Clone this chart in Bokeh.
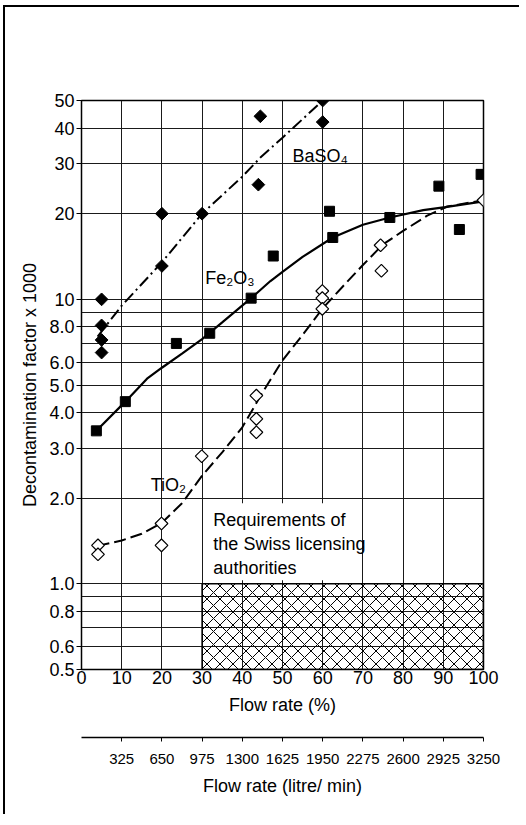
import numpy as np
from bokeh.plotting import figure
from bokeh.models import (Range1d, LinearAxis, FixedTicker, CustomJSTickFormatter,
                          Label, BoxAnnotation)
from bokeh.embed import file_html
from bokeh.resources import INLINE

# ---------------- data ----------------
baso4_x = [5, 5, 5, 5, 20, 20, 30, 44.5, 44, 60, 60]
baso4_y = [10, 8.1, 7.2, 6.5, 20, 13.1, 20, 44, 25.3, 50, 42]
baso4_fit_x = [4, 10, 20, 30, 40, 44.5, 50, 55, 60]
baso4_fit_y = [7.4, 9.5, 13.5, 20, 27, 31.5, 37, 43, 50]

fe2o3_x = [3.7, 10.9, 23.6, 31.9, 42.2, 47.7, 61.7, 62.5, 76.7, 88.9, 94, 99.4]
fe2o3_y = [3.45, 4.37, 7.0, 7.6, 10.1, 14.2, 20.4, 16.5, 19.4, 25.0, 17.6, 27.5]
fe2o3_fit_x = [3.7, 10.9, 16.3, 20, 25, 30, 35, 42.2, 47, 50, 55, 62.5, 70, 76.7, 85, 90.5, 100]
fe2o3_fit_y = [3.45, 4.37, 5.26, 5.75, 6.45, 7.25, 8.3, 10.1, 11.6, 12.5, 14.1, 16.5, 18.3, 19.4, 20.6, 21.1, 22.1]

tio2_x = [4.1, 4.1, 19.9, 19.9, 29.9, 43.5, 43.5, 43.5, 59.9, 59.9, 59.9, 74.4, 74.6, 100]
tio2_y = [1.365, 1.27, 1.63, 1.365, 2.81, 4.59, 3.8, 3.41, 10.7, 10.1, 9.26, 15.5, 12.6, 22.3]
tio2_fit_x = [4, 10, 15, 20, 25, 30, 35, 40, 45, 50, 55, 60, 65, 70, 75, 80, 86, 91, 100]
tio2_fit_y = [1.36, 1.42, 1.5, 1.64, 1.92, 2.4, 2.9, 3.55, 4.7, 6.1, 7.5, 9.3, 11.1, 13.2, 15.6, 17.4, 19.7, 21.2, 22.3]

# requirement zone (flow %, decontamination factor)
req_x = [30, 100]
req_y = [0.5, 1.0]

pct_ticks = [0, 10, 20, 30, 40, 50, 60, 70, 80, 90, 100]
lpm_ticks = [325, 650, 975, 1300, 1625, 1950, 2275, 2600, 2925, 3250]
lpm_max = 3250

y_ticks = [0.5, 0.6, 0.8, 1, 2, 3, 4, 5, 6, 8, 10, 20, 30, 40, 50]
y_labels = ["0.5", "0.6", "0.8", "1.0", "2.0", "3.0", "4.0", "5.0", "6.0", "8.0",
            "10", "20", "30", "40", "50"]
y_grid = [0.5, 0.6, 0.7, 0.8, 0.9, 1, 2, 3, 4, 5, 6, 7, 8, 9, 10, 20, 30, 40, 50]
x_grid = [10, 20, 30, 40, 50, 60, 70, 80, 90]

FONT = "Liberation Sans"
FS = "18px"

p = figure(width=516, height=809, output_backend="svg", toolbar_location=None,
           x_range=Range1d(0, 100), y_range=Range1d(0.5, 50), y_axis_type="log",
           min_border_left=76, min_border_right=38, min_border_top=93, min_border_bottom=147)
p.extra_x_ranges = {"lpm": Range1d(0, lpm_max)}
p.styles = {"border-top": "2px solid black", "border-left": "2px solid black",
            "margin-top": "5px", "margin-left": "3px"}

p.outline_line_color = "black"
p.outline_line_width = 1.5
p.background_fill_color = "white"
p.border_fill_color = "white"

# grids
p.xgrid.ticker = FixedTicker(ticks=x_grid)
p.ygrid.ticker = FixedTicker(ticks=y_grid)
for g in (p.xgrid, p.ygrid):
    g.grid_line_color = "#1a1a1a"
    g.grid_line_width = 1

# y axis
ya = p.yaxis[0]
ya.ticker = FixedTicker(ticks=y_ticks)
ya.formatter = CustomJSTickFormatter(args=dict(vals=y_ticks, labs=y_labels), code="""
    for (let i = 0; i < vals.length; i++) { if (Math.abs(vals[i] - tick) < 1e-9) return labs[i]; }
    return "";
""")
ya.axis_label = "Decontamination factor x 1000"
ya.major_tick_out = 5
ya.major_tick_in = 0
ya.minor_tick_line_color = None
ya.major_label_standoff = 2
ya.axis_label_standoff = 6
ya.axis_line_color = "black"

# x axis (%)
xa = p.xaxis[0]
xa.ticker = FixedTicker(ticks=pct_ticks)
xa.axis_label = "Flow rate (%)"
xa.major_tick_out = 0
xa.major_tick_in = 0
xa.minor_tick_line_color = None
xa.major_label_standoff = 1
xa.axis_label_standoff = 8

# spacer axis (invisible, only reserves room between the two scales)
sp = LinearAxis(ticker=FixedTicker(ticks=[50]), major_tick_out=20, major_tick_in=0,
                axis_line_color=None, major_tick_line_color=None, minor_tick_line_color=None,
                major_label_standoff=0, major_label_text_font_size="1px",
                major_label_text_alpha=0)
p.add_layout(sp, "below")

# litre/min axis
la = LinearAxis(x_range_name="lpm", ticker=FixedTicker(ticks=lpm_ticks),
                axis_label="Flow rate (litre/ min)")
la.major_tick_out = 4
la.major_tick_in = 0
la.minor_tick_line_color = None
la.major_label_standoff = 12
la.axis_label_standoff = 9
la.axis_line_width = 1.5
p.add_layout(la, "below")

for ax in (ya, xa, la):
    ax.major_label_text_font = FONT
    ax.axis_label_text_font = FONT
    ax.major_label_text_font_size = FS
    ax.axis_label_text_font_size = FS
    ax.axis_label_text_font_style = "normal"
    ax.major_label_text_color = "black"
    ax.axis_label_text_color = "black"
    ax.major_tick_line_color = "black"
la.major_label_text_font_size = "15px"

# hatched requirement zone
p.quad(left=[req_x[0]], right=[req_x[1]], bottom=[req_y[0]], top=[req_y[1]],
       fill_alpha=0, hatch_pattern="diagonal_cross", hatch_color="black",
       hatch_scale=13, hatch_weight=1, line_color="black", line_width=1.5)

# white box behind text
p.add_layout(BoxAnnotation(left=30.3, right=68, bottom=1.03, top=1.92,
                           fill_color="white", fill_alpha=1, line_color=None))

# fit curves
p.line(baso4_fit_x, baso4_fit_y, line_color="black", line_width=2, line_dash="12 4 2 4")
p.line(fe2o3_fit_x, fe2o3_fit_y, line_color="black", line_width=2.2)
p.line(tio2_fit_x, tio2_fit_y, line_color="black", line_width=2, line_dash="12 5")

# markers
p.scatter(baso4_x, baso4_y, marker="square", angle=np.pi / 4, size=9,
          fill_color="black", line_color="black")
p.scatter(fe2o3_x, fe2o3_y, marker="square", size=10,
          fill_color="black", line_color="black")
p.scatter(tio2_x, tio2_y, marker="square", angle=np.pi / 4, size=9,
          fill_color="white", line_color="black", line_width=1.2)

# labels
for (tx, ty, txt) in [(52.5, 32, "BaSO₄"), (30.8, 11.9, "Fe₂O₃"), (17.2, 2.22, "TiO₂")]:
    p.add_layout(Label(x=tx, y=ty, text=txt, text_font=FONT, text_font_size=FS,
                       text_baseline="alphabetic", text_color="black"))
p.add_layout(Label(x=32.8, y=1.825, text="Requirements of\nthe Swiss licensing\nauthorities",
                   text_font=FONT, text_font_size=FS, text_baseline="top",
                   text_color="black", text_line_height=1.2))

open("out.html", "w").write(file_html(p, INLINE))
